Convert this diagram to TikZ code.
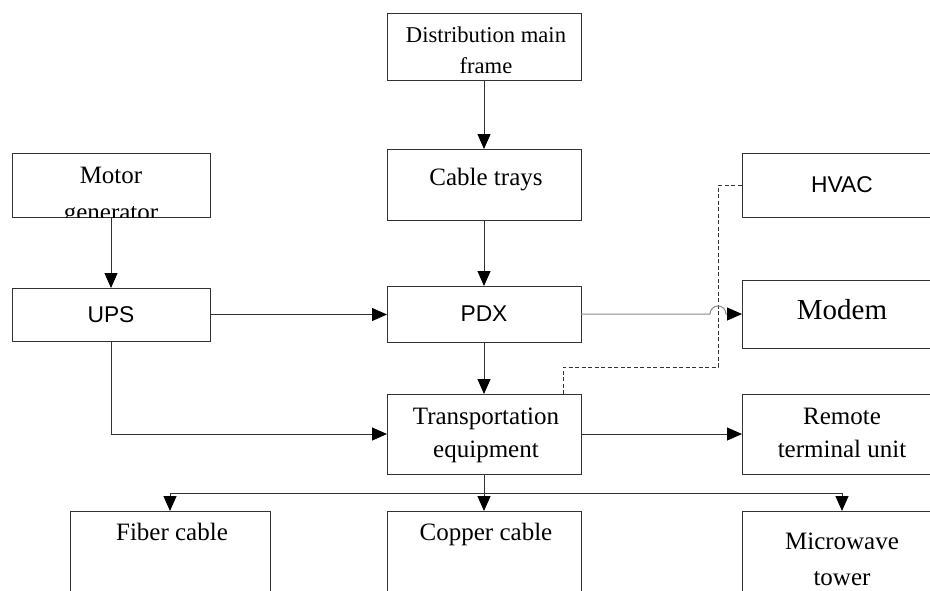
\documentclass[tikz,border=0pt]{standalone}
\usepackage{fontspec}
\setmainfont{Liberation Serif}
\newfontfamily\arialf{Liberation Sans}
\usetikzlibrary{arrows.meta}
\definecolor{linec}{HTML}{333333}
\definecolor{hopc}{HTML}{8A8A8A}
\begin{document}
\begin{tikzpicture}[x=1pt,y=-1pt,
  box/.style={draw=linec, line width=1pt, rectangle, inner sep=0pt, outer sep=0pt},
  conn/.style={draw=linec, line width=1pt},
  arr/.style={conn, -{Triangle[length=15pt,width=13pt,color=black]}},
  ser/.style={font=\fontsize{25}{30}\selectfont, inner sep=0pt, anchor=base, text=black},
  sersmall/.style={font=\fontsize{22.6}{27}\selectfont, inner sep=0pt, anchor=base, text=black},
  serbig/.style={font=\fontsize{29}{34}\selectfont, inner sep=0pt, anchor=center, text=black},
  sans/.style={font=\arialf\fontsize{22.8}{27}\selectfont, inner sep=0pt, anchor=center, text=black},
  dashline/.style={draw=linec, line width=1pt, dash pattern=on 4pt off 2.5pt}
]
\useasboundingbox (0,0) rectangle (930,590);
\clip (0,0) rectangle (930,590);

% boxes
\node[box, minimum width=194pt, minimum height=67pt] (dmf) at (484,46.5) {};
\node[box, minimum width=198pt, minimum height=64pt] (mg) at (111,185) {};
\node[box, minimum width=194pt, minimum height=71pt] (ct) at (484,184.5) {};
\node[box, minimum width=200pt, minimum height=64pt] (hvac) at (842,185) {};
\node[box, minimum width=198pt, minimum height=53pt] (ups) at (111,314.5) {};
\node[box, minimum width=194pt, minimum height=56pt] (pdx) at (484,314) {};
\node[box, minimum width=200pt, minimum height=68pt] (modem) at (842,314) {};
\node[box, minimum width=194pt, minimum height=80pt] (te) at (484,434) {};
\node[box, minimum width=200pt, minimum height=80pt] (rtu) at (842,434) {};
\node[box, minimum width=200pt, minimum height=109pt] (fiber) at (170,565.5) {};
\node[box, minimum width=194pt, minimum height=109pt] (copper) at (484,565.5) {};
\node[box, minimum width=200pt, minimum height=109pt] (mw) at (842,565.5) {};

% texts
\node[sersmall] (dmf1) at (486,42) {Distribution main};
\node[sersmall] (dmf2) at (486,73) {frame};
\node[ser] (mg1) at (111,183) {Motor};
\begin{scope}
  \clip (mg.south west) rectangle (mg.north east);
  \node[ser] (mg2) at (111,220) {generator};
\end{scope}
\node[ser] (ct1) at (486,185) {Cable trays};
\node[sans] (hvac1) at (842,185) {HVAC};
\node[sans] (ups1) at (111,314.5) {UPS};
\node[sans] (pdx1) at (484,314) {PDX};
\node[serbig] (modem1) at (842,310) {Modem};
\node[ser] (te1) at (486,424) {Transportation};
\node[ser] (te2) at (486,457) {equipment};
\node[ser] (rtu1) at (842,424) {Remote};
\node[ser] (rtu2) at (842,457) {terminal unit};
\node[ser] (fiber1) at (172,540) {Fiber cable};
\node[ser] (copper1) at (486,540) {Copper cable};
\node[ser] (mw1) at (842,549) {Microwave};
\node[ser] (mw2) at (842,585) {tower};

% connectors
\draw[arr] (dmf.south) -- (ct.north);
\draw[arr] (mg.south) -- (ups.north);
\draw[arr] (ct.south) -- (pdx.north);
\draw[arr] (ups.east) -- (ups.east -| pdx.west);
\draw[arr] (pdx.south) -- (te.north);
\draw[arr] (ups.south) |- (te.west);
\draw[arr] (te.east) -- (rtu.west);

% bus to bottom boxes
\coordinate (bus) at (484,493);
\draw[conn] (te.south) -- (bus);
\draw[arr] (bus) -- (copper.north);
\draw[arr] (bus) -| (fiber.north);
\draw[arr] (bus) -| (mw.north);

% dashed HVAC link
\coordinate (dk) at (718,367);
\draw[dashline] ([xshift=-18pt]te.north east) |- (dk) |- (hvac.west);

% PDX to modem with hop
\coordinate (hop) at (710,314);
\draw[draw=hopc, line width=1pt] (pdx.east) -- (hop) arc[start angle=180, end angle=0, radius=8pt] -- ([xshift=-14pt]modem.west);
\draw[arr] ([xshift=-15pt]modem.west) -- (modem.west);
\end{tikzpicture}
\end{document}
